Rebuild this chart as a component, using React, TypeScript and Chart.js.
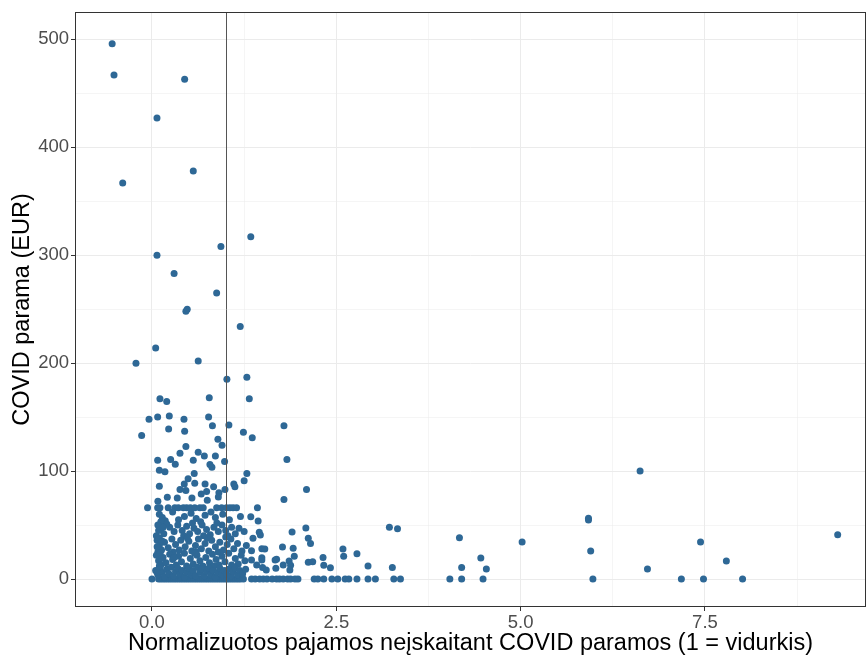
import React, { useEffect, useRef } from 'react';
import { Chart, registerables } from 'chart.js';

Chart.register(...registerables);

// ---- Data (income normalised, COVID aid in EUR) ----
const X_TITLE = 'Normalizuotos pajamos neįskaitant COVID paramos (1 = vidurkis)';
const Y_TITLE = 'COVID parama (EUR)';
const X_MIN = -1.044;
const X_MAX = 9.684;
const Y_MIN = -25.9;
const Y_MAX = 525.3;
const X_TICKS = [0, 1.25, 2.5, 3.75, 5, 6.25, 7.5, 8.75];
const X_LABELED = [0, 2.5, 5, 7.5];
const Y_TICKS = [0, 50, 100, 150, 200, 250, 300, 350, 400, 450, 500];
const Y_LABELED = [0, 100, 200, 300, 400, 500];
const REFERENCE_X = 1;

// households receiving no aid (y = 0)
const zeroAidIncome: number[] = [
  0.0, 0.09, 0.12, 0.15, 0.18, 0.21, 0.24, 0.27, 0.3, 0.33, 0.36, 0.39, 0.42, 0.45,
  0.48, 0.51, 0.54, 0.57, 0.6, 0.63, 0.66, 0.69, 0.72, 0.75, 0.78, 0.81, 0.84, 0.87,
  0.9, 0.93, 0.96, 0.99, 1.02, 1.05, 1.08, 1.11, 1.14, 1.17, 1.2, 1.24,
  1.35, 1.4, 1.46, 1.51, 1.56, 1.63, 1.69, 1.73, 1.78, 1.84, 1.88, 1.94, 1.98,
  2.2, 2.25, 2.33, 2.44, 2.52, 2.62, 2.67, 2.78, 2.93, 3.03, 3.28, 3.37,
  4.04, 4.2, 4.49, 5.98, 7.18, 7.48, 8.01,
];

// dense low-aid cluster [income, aid]
const clusterPoints: [number, number][] = [
  [-0.06, 66], [0.077, 66], [0.108, 66], [0.22, 66], [0.31, 66], [0.357, 66], [0.425, 66],
  [0.47, 66], [0.52, 66], [0.58, 66], [0.65, 66], [0.695, 66], [0.877, 66], [0.945, 66],
  [1.01, 66], [1.057, 66], [1.1, 66], [1.147, 66], [1.43, 66],
  [0.1, 60], [0.14, 57], [0.28, 62], [0.44, 58], [0.53, 61], [0.6, 56], [0.72, 59], [0.8, 62],
  [0.86, 57], [0.96, 60], [1.05, 55], [1.2, 58], [0.18, 54], [0.36, 55], [0.66, 53],
  [1.34, 57.8], [1.44, 53.8], [0.12, 53],
  [0.08, 50], [0.12, 46], [0.16, 42], [0.24, 48], [0.3, 44], [0.35, 50], [0.41, 45], [0.47, 49],
  [0.51, 42], [0.57, 47], [0.62, 44], [0.68, 50], [0.74, 46], [0.79, 41], [0.84, 48], [0.9, 44],
  [0.95, 50], [1.0, 45], [1.08, 48], [1.13, 42], [1.18, 47], [1.25, 44], [0.06, 40], [0.43, 40],
  [0.7, 40], [1.03, 40], [0.2, 51], [0.55, 52], [0.88, 52], [1.455, 43.3], [1.47, 40.8],
  [1.9, 43.6], [2.087, 47.3], [1.37, 37.7], [0.09, 45], [0.15, 48],
  [0.07, 36], [0.1, 31], [0.13, 27], [0.17, 34], [0.22, 29], [0.27, 37], [0.32, 32], [0.37, 27],
  [0.39, 36], [0.45, 30], [0.5, 35], [0.54, 26], [0.59, 31], [0.63, 37], [0.67, 28], [0.72, 33],
  [0.77, 26], [0.81, 36], [0.86, 30], [0.92, 34], [0.97, 27], [1.02, 32], [1.07, 37], [1.11, 28],
  [1.16, 33], [1.22, 26], [1.28, 31], [0.08, 25], [0.48, 38], [0.75, 38], [1.0, 39], [0.29, 25],
  [0.6, 25], [0.9, 25], [1.49, 28], [1.53, 27.8], [1.35, 26.3], [1.77, 29.7], [1.915, 28.5],
  [2.12, 37.7], [2.15, 33], [2.59, 27.8], [0.1, 38], [0.07, 30], [0.14, 35],
  [0.06, 22], [0.09, 17], [0.12, 13], [0.15, 20], [0.19, 15], [0.24, 23], [0.28, 18], [0.33, 13],
  [0.36, 21], [0.4, 16], [0.44, 24], [0.47, 12], [0.52, 19], [0.56, 14], [0.61, 22], [0.65, 17],
  [0.69, 12], [0.73, 20], [0.78, 15], [0.82, 23], [0.87, 18], [0.91, 13], [0.95, 21], [0.99, 16],
  [1.04, 24], [1.08, 13], [1.13, 19], [1.17, 14], [1.21, 22], [1.26, 17], [0.11, 24], [0.3, 20],
  [0.58, 24], [0.84, 12], [1.49, 19.8], [1.49, 17.6], [1.35, 17.6], [1.69, 18.3], [1.67, 17.6],
  [1.78, 13], [1.86, 16.7], [1.88, 12.7], [1.42, 13], [1.93, 21], [2.12, 15.5], [2.18, 16],
  [2.32, 20], [2.33, 12.7], [2.6, 21], [2.78, 23.5], [0.13, 19], [0.1, 12],
  [0.05, 8], [0.08, 4], [0.11, 10], [0.14, 6], [0.17, 2], [0.2, 9], [0.23, 5], [0.26, 11],
  [0.29, 3], [0.32, 7], [0.35, 10], [0.38, 4], [0.41, 8], [0.44, 2], [0.47, 6], [0.5, 10],
  [0.53, 4], [0.56, 8], [0.59, 3], [0.62, 11], [0.65, 6], [0.68, 9], [0.71, 3], [0.74, 7],
  [0.77, 10], [0.8, 4], [0.83, 8], [0.86, 2], [0.89, 6], [0.92, 10], [0.95, 4], [0.98, 8],
  [1.01, 5], [1.04, 9], [1.07, 3], [1.1, 7], [1.13, 10], [1.16, 4], [1.19, 8], [1.23, 5],
  [1.27, 9], [1.68, 10], [1.87, 8.3], [1.55, 8.3], [1.5, 10.8], [2.42, 10.5], [2.93, 12],
  [3.26, 10.8], [0.07, 6],
];

// higher aid amounts [income, aid]
const upperPoints: [number, number][] = [
  [-0.54, 496], [-0.515, 467], [0.443, 463], [0.068, 427], [0.56, 378], [-0.397, 367],
  [1.34, 317], [0.935, 308], [0.068, 300], [0.3, 283], [0.877, 265], [0.478, 250], [0.46, 248],
  [1.197, 234], [0.05, 214], [-0.217, 200], [0.627, 202], [1.016, 185], [1.287, 187],
  [0.108, 167], [0.2, 164.5], [0.777, 168], [1.32, 167], [-0.04, 148], [0.077, 150],
  [0.235, 151], [0.434, 148], [0.768, 150], [0.82, 142], [1.043, 142.6], [0.226, 139],
  [0.443, 137], [-0.14, 133], [1.24, 136], [1.36, 131], [1.79, 142], [0.894, 129.6], [0.95, 124],
  [0.46, 122.7], [0.38, 116.6], [0.627, 117.5], [0.71, 114], [0.86, 114], [0.077, 110],
  [0.253, 110.7], [0.316, 106.4], [0.56, 110], [0.786, 106], [0.813, 103.6], [0.985, 109],
  [1.83, 110.7], [0.1, 100.8], [0.176, 99.5], [0.573, 97.7], [1.287, 97.7], [0.49, 93],
  [0.438, 88], [0.58, 88.7], [0.72, 88], [0.1, 86], [0.38, 83], [1.11, 88], [1.125, 85.6],
  [1.25, 91], [0.836, 85.6], [0.99, 83], [0.46, 82], [0.668, 78.8], [0.741, 81], [0.908, 80],
  [0.9, 76], [0.208, 75.8], [0.343, 75], [0.542, 75], [0.08, 72], [0.75, 73], [1.79, 73.6],
  [2.096, 83],
];

// high-income households [income, aid]
const highIncomePoints: [number, number][] = [
  [3.22, 48], [3.33, 46.5], [4.17, 38.3], [4.2, 10.8], [4.46, 19.5], [4.535, 9.3], [5.02, 34.3],
  [5.92, 56.3], [5.92, 54.7], [5.95, 26], [6.62, 100], [6.72, 9.3], [7.44, 34.3], [7.79, 16.7],
  [9.3, 41],
];

const POINT_COLOR = '#2E6896';
const FONT = '"Liberation Sans", Arial, sans-serif';

const inList = (v: number, list: number[]) => list.some((t) => Math.abs(t - v) < 1e-9);

export default function App() {
  const ref = useRef<HTMLCanvasElement | null>(null);

  useEffect(() => {
    document.body.style.margin = '0';
    const canvas = ref.current;
    if (!canvas) return;

    const data = [
      ...zeroAidIncome.map((x) => ({ x, y: 0 })),
      ...clusterPoints.map(([x, y]) => ({ x, y })),
      ...upperPoints.map(([x, y]) => ({ x, y })),
      ...highIncomePoints.map(([x, y]) => ({ x, y })),
    ];

    const overlay = {
      id: 'overlay',
      afterDatasetsDraw(chart: any) {
        const { ctx, chartArea: a, scales } = chart;
        const px = Math.round(scales.x.getPixelForValue(REFERENCE_X)) + 0.5;
        ctx.save();
        ctx.strokeStyle = '#555555';
        ctx.lineWidth = 1;
        ctx.beginPath();
        ctx.moveTo(px, a.top);
        ctx.lineTo(px, a.bottom);
        ctx.stroke();
        ctx.strokeStyle = '#333333';
        ctx.strokeRect(a.left + 0.5, a.top + 0.5, a.right - a.left - 1, a.bottom - a.top - 1);
        ctx.restore();
      },
    };

    const chart = new Chart(canvas, {
      type: 'scatter',
      data: {
        datasets: [
          {
            data,
            backgroundColor: POINT_COLOR,
            borderWidth: 0,
            pointRadius: 3.5,
            pointHoverRadius: 3.5,
          },
        ],
      },
      options: {
        animation: false,
        responsive: false,
        events: [],
        layout: { autoPadding: false, padding: { top: 12, right: 0, left: 0, bottom: 0 } },
        plugins: { legend: { display: false }, tooltip: { enabled: false } },
        scales: {
          x: {
            type: 'linear',
            min: X_MIN,
            max: X_MAX,
            afterBuildTicks: (s: any) => {
              s.ticks = X_TICKS.map((value) => ({ value }));
            },
            afterFit: (s: any) => {
              s.height = 48;
              s.paddingLeft = 0;
              s.paddingRight = 0;
            },
            border: { display: false },
            grid: {
              color: '#EBEBEB',
              lineWidth: (c: any) => (c.tick && inList(c.tick.value, X_LABELED) ? 1 : 0.5),
              drawTicks: true,
              tickLength: 4,
              tickWidth: 1,
              tickColor: (c: any) => (c.tick && inList(c.tick.value, X_LABELED) ? '#333333' : 'rgba(0,0,0,0)'),
            },
            ticks: {
              autoSkip: false,
              maxRotation: 0,
              padding: 1,
              color: '#4D4D4D',
              font: { family: FONT, size: 18.5 },
              callback: (v: any) => (inList(Number(v), X_LABELED) ? Number(v).toFixed(1) : ''),
            },
            title: {
              display: true,
              text: X_TITLE,
              color: '#000000',
              font: { family: FONT, size: 23.5 },
              padding: { top: 0, bottom: -3 },
            },
          },
          y: {
            type: 'linear',
            min: Y_MIN,
            max: Y_MAX,
            afterBuildTicks: (s: any) => {
              s.ticks = Y_TICKS.map((value) => ({ value }));
            },
            afterFit: (s: any) => {
              s.width = 75;
              s.paddingTop = 0;
              s.paddingBottom = 0;
            },
            border: { display: false },
            grid: {
              color: '#EBEBEB',
              lineWidth: (c: any) => (c.tick && inList(c.tick.value, Y_LABELED) ? 1 : 0.5),
              drawTicks: true,
              tickLength: 4,
              tickWidth: 1,
              tickColor: (c: any) => (c.tick && inList(c.tick.value, Y_LABELED) ? '#333333' : 'rgba(0,0,0,0)'),
            },
            ticks: {
              autoSkip: false,
              padding: 2,
              color: '#4D4D4D',
              font: { family: FONT, size: 18.5 },
              callback: (v: any) => (inList(Number(v), Y_LABELED) ? String(Math.round(Number(v))) : ''),
            },
            title: {
              display: true,
              text: Y_TITLE,
              color: '#000000',
              font: { family: FONT, size: 23.5 },
              padding: { top: 8, bottom: 0 },
            },
          },
        },
      },
      plugins: [overlay],
    });

    return () => chart.destroy();
  }, []);

  return (
    <div style={{ width: 866, height: 655 }}>
      <canvas ref={ref} width={866} height={655} style={{ display: 'block' }} />
    </div>
  );
}
